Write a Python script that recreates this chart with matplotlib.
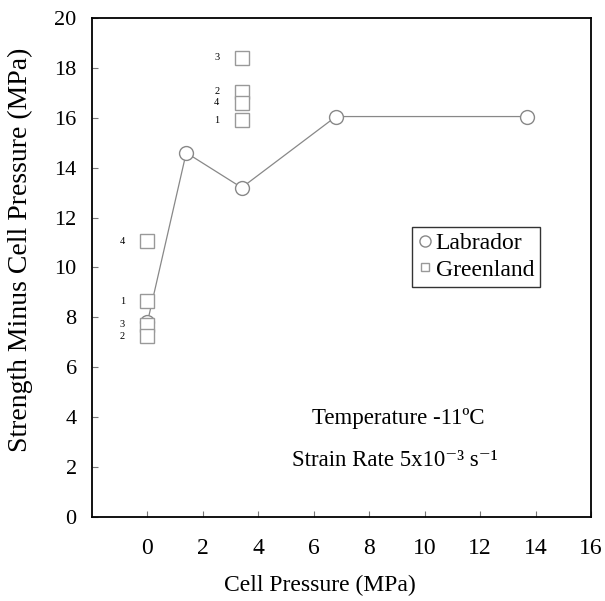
import matplotlib
matplotlib.use("Agg")
import matplotlib.pyplot as plt

plt.rcParams['font.family'] = ['Liberation Serif', 'DejaVu Serif']

# Labrador (connected circles)
lab_x = [0.0, 1.4, 3.4, 6.8, 13.7]
lab_y = [7.8, 14.6, 13.2, 16.05, 16.05]

# Greenland (numbered squares)
gr_x = [0.0, 0.0, 0.0, 0.0, 3.4, 3.4, 3.4, 3.4]
gr_y = [11.05, 8.65, 7.7, 7.25, 18.4, 17.05, 16.6, 15.9]
gr_lbl = ['4', '1', '3', '2', '3', '2', '4', '1']

xticks = [0, 2, 4, 6, 8, 10, 12, 14, 16]
yticks = [0, 2, 4, 6, 8, 10, 12, 14, 16, 18, 20]

fig = plt.figure(figsize=(6.05, 6.01), dpi=100)
ax = fig.add_axes([0.152, 0.140, 0.825, 0.830])

ax.plot(lab_x, lab_y, color='#888888', lw=0.9, zorder=2)
ax.plot(lab_x, lab_y, 'o', ms=10, mfc='white', mec='#888888', mew=1.0,
        ls='none', zorder=3)
ax.plot(gr_x, gr_y, 's', ms=10, mfc='white', mec='#999999', mew=1.0,
        ls='none', zorder=4)
for x, y, t in zip(gr_x, gr_y, gr_lbl):
    ax.annotate(t, (x, y), xytext=(-18, 0), textcoords='offset points',
                ha='center', va='center', fontsize=7.5)

ax.set_xlim(-2, 16)
ax.set_ylim(0, 20)
ax.set_xticks(xticks)
ax.set_yticks(yticks)
ax.tick_params(direction='in', length=4, width=0.8, color='#777777')
ax.tick_params(axis='x', pad=15, labelsize=17)
ax.tick_params(axis='y', pad=11, labelsize=16)
for s in ax.spines.values():
    s.set_linewidth(1.3)

ax.set_xlabel('Cell Pressure (MPa)', fontsize=17)
ax.xaxis.set_label_coords(0.457, -0.117)
ax.set_ylabel('Strength Minus Cell Pressure (MPa)', fontsize=20)
ax.yaxis.set_label_coords(-0.118, 0.535)

h1, = ax.plot([], [], 'o', ms=8, mfc='white', mec='#888888', mew=1.0)
h2, = ax.plot([], [], 's', ms=6, mfc='white', mec='#999999', mew=1.0)
leg = ax.legend([h1, h2], ['Labrador', 'Greenland'], loc='upper left',
                bbox_to_anchor=(0.641, 0.581), fontsize=17, frameon=True,
                fancybox=False, edgecolor='black', handlelength=0.6,
                handletextpad=0.15, borderpad=0.25, labelspacing=0.2,
                borderaxespad=0)
leg.get_frame().set_linewidth(1.0)

ax.text(5.92, 3.93, 'Temperature -11\u00baC', fontsize=16.5,
        ha='left', va='center')
ax.text(5.2, 2.24, 'Strain Rate 5x10\u207b\u00b3 s\u207b\u00b9',
        fontsize=16.5, ha='left', va='center')

fig.savefig('out.png', dpi=100, facecolor='white')
